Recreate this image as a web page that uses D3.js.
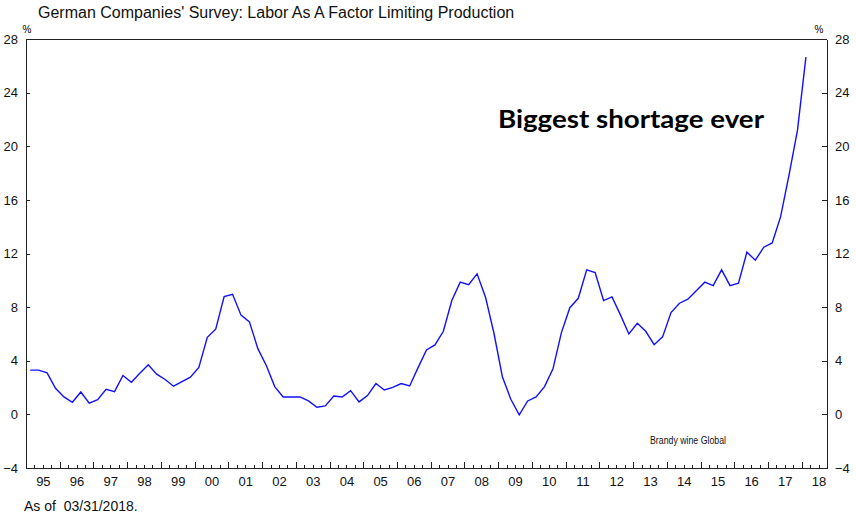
<!DOCTYPE html>
<head>
<meta charset="utf-8">
<script src="https://cdn.jsdelivr.net/npm/d3@7/dist/d3.min.js"></script>
<style>
body { margin: 0; background: #fff; }
svg { display: block; }
.axis path, .axis line { stroke: #222; stroke-width: 1; shape-rendering: crispEdges; }
.axis text { font: 13px "Liberation Sans", Arial, sans-serif; fill: #111; }
.line { fill: none; stroke: #1010ff; stroke-width: 1.4px; }
</style>
<body>
<div id="chart"></div>
<script>

// quarterly survey values, 1995Q1 .. 2018Q1 (percent)
var firstYear = 1995;
var laborShare = [
  3.3, 3.3, 3.1, 1.95, 1.3, 0.9, 1.67, 0.83, 1.1, 1.87, 1.7, 2.9,
  2.4, 3.07, 3.7, 3.0, 2.6, 2.1, 2.45, 2.77, 3.5, 5.75, 6.35, 8.78,
  8.96, 7.4, 6.9, 4.9, 3.65, 2.07, 1.3, 1.3, 1.3, 1.0, 0.53, 0.63,
  1.37, 1.3, 1.77, 0.93, 1.4, 2.3, 1.82, 2.02, 2.3, 2.12, 3.49, 4.8,
  5.18, 6.2, 8.49, 9.86, 9.68, 10.48, 8.74, 6.05, 2.81, 1.13, -0.04, 1.0,
  1.3, 2.07, 3.4, 6.1, 7.96, 8.66, 10.78, 10.58, 8.49, 8.76, 7.42, 6.0,
  6.8, 6.2, 5.2, 5.78, 7.59, 8.29, 8.59, 9.23, 9.86, 9.6, 10.78, 9.6,
  9.78, 12.1, 11.5, 12.47, 12.79, 14.75, 17.87, 21.2, 26.65
];

// year tick labels
var yearLabels = ["95","96","97","98","99","00","01","02","03","04","05","06",
                  "07","08","09","10","11","12","13","14","15","16","17","18"];
var yTicks = [-4, 0, 4, 8, 12, 16, 20, 24, 28];

var W = 856, H = 518;
var margin = {left: 26, right: 827, top: 39, bottom: 468};

var svg = d3.select("#chart").append("svg")
    .attr("width", W)
    .attr("height", H);

var x = d3.scaleLinear().domain([1995, 2018.75]).range([margin.left, margin.right]);
var y = d3.scaleLinear().domain([-4, 28]).range([margin.bottom, margin.top]);

var data = laborShare.map(function(v, i) {
  return { t: firstYear + i / 4 + 0.125, v: v };
});

// title
svg.append("text")
    .attr("x", 38).attr("y", 18)
    .style("font", "16px 'Liberation Sans', Arial, sans-serif")
    .style("fill", "#111")
    .text("German Companies' Survey: Labor As A Factor Limiting Production");

// top border
svg.append("line")
    .attr("x1", margin.left).attr("x2", margin.right)
    .attr("y1", margin.top).attr("y2", margin.top)
    .style("stroke", "#222")
    .style("shape-rendering", "crispEdges");

// left axis
svg.append("g")
    .attr("class", "axis")
    .attr("transform", "translate(" + margin.left + ",0)")
    .call(d3.axisLeft(y).tickValues(yTicks).tickSizeInner(-4).tickSizeOuter(0).tickPadding(8));

// right axis
svg.append("g")
    .attr("class", "axis")
    .attr("transform", "translate(" + margin.right + ",0)")
    .call(d3.axisRight(y).tickValues(yTicks).tickSizeInner(-5).tickSizeOuter(0).tickPadding(8));

// % units
svg.append("text").attr("x", 27).attr("y", 33)
    .style("font", "10px 'Liberation Sans', Arial, sans-serif")
    .style("text-anchor", "middle").text("%");
svg.append("text").attr("x", 819).attr("y", 33)
    .style("font", "10px 'Liberation Sans', Arial, sans-serif")
    .style("text-anchor", "middle").text("%");

// bottom axis: quarterly minor ticks
var quarterTicks = d3.range(0, 95).map(function(i) { return 1995 + i / 4; })
    .filter(function(t) { return t % 1 !== 0 && t < 2018.75; });
var yearTicks = d3.range(1995, 2019);

svg.append("g")
    .attr("class", "axis")
    .attr("transform", "translate(0," + margin.bottom + ")")
    .call(d3.axisBottom(x).tickValues(quarterTicks).tickSizeInner(-3).tickSizeOuter(0).tickFormat(""));

svg.append("g")
    .attr("class", "axis")
    .attr("transform", "translate(0," + margin.bottom + ")")
    .call(d3.axisBottom(x).tickValues(yearTicks).tickSizeInner(-6).tickSizeOuter(0).tickFormat(""));

// year labels at mid-year
var labelAxis = svg.append("g")
    .attr("class", "axis")
    .attr("transform", "translate(0," + margin.bottom + ")")
    .call(d3.axisBottom(x)
      .tickValues(yearLabels.map(function(d, i) { return 1995.5 + i; }))
      .tickSize(0).tickPadding(9)
      .tickFormat(function(d, i) { return yearLabels[i]; }));
labelAxis.select(".domain").remove();

// data line
var line = d3.line()
    .x(function(d) { return x(d.t); })
    .y(function(d) { return y(d.v); });

svg.append("path")
    .datum(data)
    .attr("class", "line")
    .attr("d", line);

// annotation
svg.append("text")
    .attr("x", 498).attr("y", 128)
    .attr("textLength", 266)
    .attr("lengthAdjust", "spacingAndGlyphs")
    .style("font", "bold 25px Lato, 'Open Sans', sans-serif")
    .style("fill", "#000")
    .text("Biggest shortage ever");

// source
svg.append("text")
    .attr("x", 650).attr("y", 444)
    .attr("textLength", 76)
    .attr("lengthAdjust", "spacingAndGlyphs")
    .style("font", "10px 'Liberation Sans', Arial, sans-serif")
    .style("fill", "#111")
    .text("Brandy wine Global");

// footer
svg.append("text")
    .attr("x", 24).attr("y", 511)
    .style("font", "14px 'Liberation Sans', Arial, sans-serif")
    .style("fill", "#111")
    .attr("xml:space", "preserve")
    .text("As of  03/31/2018.");

</script>
</body>
